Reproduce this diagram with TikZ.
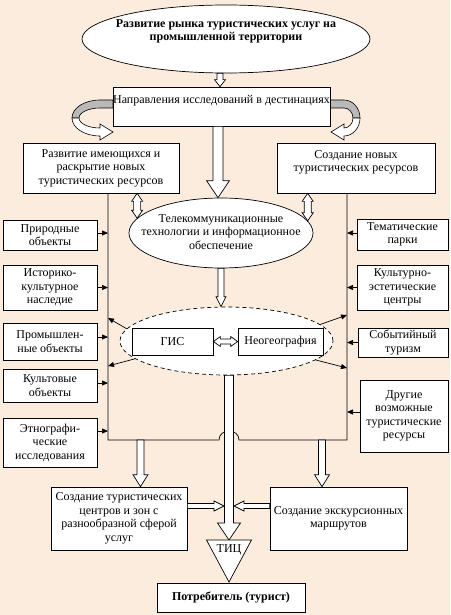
\documentclass[tikz,border=0pt]{standalone}
\usepackage{fontspec}
\setmainfont{Liberation Serif}
\usetikzlibrary{shapes.geometric,arrows.meta,calc}
\definecolor{bg}{RGB}{251,236,222}
\definecolor{band}{RGB}{185,185,185}
\newcommand\fs{\fontsize{12}{13.5}\selectfont}
% single block arrow: from, to, shaft half width, head half width, head length
\newcommand\sblock[5]{%
  \draw[barr] ($(#1)!#3!90:(#2)$) -- ($(#2)!#5!(#1)!#3!90:(#2)$) -- ($(#2)!#5!(#1)!#4!90:(#2)$) -- (#2)
    -- ($(#2)!#5!(#1)!#4!-90:(#2)$) -- ($(#2)!#5!(#1)!#3!-90:(#2)$) -- ($(#1)!#3!-90:(#2)$) -- cycle;}
% double block arrow
\newcommand\dblock[5]{%
  \draw[barr] (#1) -- ($(#1)!#5!(#2)!#4!90:(#2)$) -- ($(#1)!#5!(#2)!#3!90:(#2)$)
    -- ($(#2)!#5!(#1)!#3!90:(#2)$) -- ($(#2)!#5!(#1)!#4!90:(#2)$) -- (#2)
    -- ($(#2)!#5!(#1)!#4!-90:(#2)$) -- ($(#2)!#5!(#1)!#3!-90:(#2)$)
    -- ($(#1)!#5!(#2)!#3!-90:(#2)$) -- ($(#1)!#5!(#2)!#4!-90:(#2)$) -- cycle;}
\begin{document}
\begin{tikzpicture}[x=1pt,y=-1pt,
  ln/.style={line width=0.7pt},
  box/.style={draw, fill=white, line width=0.7pt, inner sep=0pt, align=center, font=\fs},
  oval/.style={draw, fill=white, ellipse, line width=0.7pt, inner sep=0pt},
  barr/.style={draw, fill=white, line width=0.7pt},
  sarr/.style={line width=0.7pt, -{Triangle[length=6pt,width=5pt]}},
  bandgray/.style={draw, fill=band, line width=0.6pt},
  bandwhite/.style={draw, fill=white, line width=0.6pt}]
\useasboundingbox (0,0) rectangle (450,615);
\fill[bg] (0,0) rectangle (450,615);

% curved ribbon arrows
\draw[bandgray] (113,100) -- (100,100) .. controls (84.5,100) and (72,108) .. (72,118) -- (79,118) .. controls (79,112.5) and (88.4,108) .. (100,108) -- (113,108) -- cycle;
\draw[bandwhite] (72,118) .. controls (72,127.9) and (84.5,136) .. (100,136) -- (100,140) -- (113,132) -- (100,124) -- (100,128) .. controls (88.4,128) and (79,123.5) .. (79,118) -- cycle;
\draw[bandgray] (330,100) -- (344,100) .. controls (352.8,100) and (360,108) .. (360,118) -- (353,118) .. controls (353,112.5) and (349,108) .. (344,108) -- (330,108) -- cycle;
\draw[bandwhite] (360,118) .. controls (360,127.9) and (352.8,136) .. (344,136) -- (344,140) -- (331,132) -- (344,124) -- (344,128) .. controls (349,128) and (353,123.5) .. (353,118) -- cycle;

% nodes
\node[oval, minimum width=288pt, minimum height=68pt] (title) at (226,39) {};
\node[font=\fs\bfseries, align=center] (titletxt) at (226,31.5) {Развитие рынка туристических услуг на\\промышленной территории};
\node[box, minimum width=217pt, text height=16pt, text depth=23pt] (napr) at (221.5,106.5) {Направления исследований в дестинациях};
\node[box, minimum width=156pt, minimum height=50pt] (ltop) at (101,168) {Развитие имеющихся и\\раскрытие новых\\туристических ресурсов};
\node[box, minimum width=158pt, minimum height=50pt] (rtop) at (356,168) {Создание новых\\туристических ресурсов\\\mbox{}};

\node[box, minimum width=94pt, minimum height=30pt] (prir) at (50,235) {Природные\\объекты};
\node[box, minimum width=94pt, minimum height=45pt] (ist) at (50,287.5) {Историко-\\культурное\\наследие};
\node[box, minimum width=94pt, minimum height=37pt] (prom) at (50,341.5) {Промышлен-\\ные объекты};
\node[box, minimum width=94pt, minimum height=33pt] (kult) at (50,385.5) {Культовые\\объекты};
\node[box, minimum width=94pt, minimum height=49pt] (etno) at (50,442.5) {Этнографи-\\ческие\\исследования};

\node[box, minimum width=91pt, minimum height=31pt] (tem) at (402.5,234.5) {Тематические\\парки};
\node[box, minimum width=91pt, minimum height=45pt] (kult2) at (402.5,287.5) {Культурно-\\эстетические\\центры};
\node[box, minimum width=90pt, minimum height=29pt] (sob) at (403,342.5) {Событийный\\туризм};
\node[box, minimum width=88pt, minimum height=72pt] (drug) at (404,416) {Другие\\возможные\\туристические\\ресурсы};

\node[oval, minimum width=184pt, minimum height=70pt] (tele) at (221,233) {};
\node[font=\fs, align=center] (teletxt) at (221,232) {Телекоммуникационные\\технологии и информационное\\обеспечение};

\node[oval, dash pattern=on 4pt off 3pt, minimum width=213pt, minimum height=68pt] (gisell) at (226.5,341) {};
\node[box, minimum width=81pt, minimum height=27pt] (gis) at (172.5,341.5) {ГИС};
\node[box, minimum width=85pt, minimum height=27pt] (neo) at (280.5,341.5) {Неогеография};

\node[box, minimum width=136pt, minimum height=63pt] (lbot) at (119,518.5) {Создание туристических\\центров и зон с\\разнообразной сферой\\услуг};
\node[box, minimum width=137pt, minimum height=63pt] (rbot) at (338.5,518.5) {Создание экскурсионных\\маршрутов};
\node[box, minimum width=148pt, minimum height=29pt, font=\fs\bfseries] (potr) at (231,597.5) {Потребитель (турист)};

% helper coordinates
\coordinate (lx) at (108,0);
\coordinate (rx) at (347,0);
\coordinate (hy) at (0,440);
\coordinate (c220) at (220,0);
\coordinate (c218) at (218,0);
\coordinate (c229) at (229,0);
\coordinate (c140) at (140.5,0);
\coordinate (c322) at (322,0);

% vertical and horizontal collecting lines
\draw[ln] (ltop.south -| lx) -- (lx |- hy) -- (219,440) .. controls (219,428) and (239,428) .. (239,440) -- (rx |- hy) -- (rtop.south -| rx);

% block arrows
\coordinate (a1s) at (c220 |- title.south);
\coordinate (a1e) at (c220 |- napr.north);
\sblock{a1s}{a1e}{3pt}{5.5pt}{7pt}
\coordinate (a2s) at (c218 |- napr.south);
\coordinate (a2e) at (c218 |- tele.north);
\sblock{a2s}{a2e}{5pt}{11.5pt}{17pt}
\coordinate (a3e) at (tele.south |- gisell.north);
\sblock{tele.south}{a3e}{3pt}{5pt}{10pt}
\coordinate (d1s) at (tele.170.5 |- ltop.south);
\coordinate (d1e) at (tele.170.5);
\dblock{d1s}{d1e}{3.5pt}{5.5pt}{8pt}
\coordinate (d2s) at (tele.8.5 |- rtop.south);
\coordinate (d2e) at (tele.8.5);
\dblock{d2s}{d2e}{3.5pt}{5.5pt}{8pt}
\dblock{gis.east}{neo.west}{2.5pt}{5pt}{7pt}

\coordinate (cs) at (c229 |- gisell.south);
\coordinate (tictop) at (229,540);
\sblock{cs}{tictop}{4.5pt}{11.5pt}{17pt}

\coordinate (b1s) at (c140 |- hy);
\coordinate (b1e) at (c140 |- lbot.north);
\sblock{b1s}{b1e}{3.5pt}{7.5pt}{12pt}
\coordinate (b2s) at (c322 |- hy);
\coordinate (b2e) at (c322 |- rbot.north);
\sblock{b2s}{b2e}{3.5pt}{7.5pt}{12pt}

\coordinate (e1s) at ([yshift=12.5pt]lbot.east);
\coordinate (e1e) at (224,506);
\sblock{e1s}{e1e}{2.5pt}{5pt}{10pt}
\coordinate (e2s) at ([yshift=12.5pt]rbot.west);
\coordinate (e2e) at (234,506);
\sblock{e2s}{e2e}{2.5pt}{5pt}{10pt}

% triangle
\coordinate (tl) at (206.5,540);
\coordinate (tr) at (251.5,540);
\coordinate (tb) at (229,582);
\draw[ln, fill=white] (tl) -- (tr) -- (tb) -- cycle;
\node[font=\fs] (tic) at (229,550) {ТИЦ};

% side arrows
\coordinate (s1) at ([yshift=2pt]prir.east);
\draw[sarr] (s1) -- (s1 -| lx);
\draw[sarr] (ist.east) -- (ist.east -| lx);
\coordinate (s3) at ([yshift=4.5pt]prom.east);
\draw[sarr] (s3) -- (s3 -| lx);
\coordinate (s4) at ([yshift=2.5pt]kult.east);
\draw[sarr] (s4) -- (s4 -| lx);
\coordinate (s5) at ([yshift=11.5pt]etno.east);
\draw[sarr] (s5) -- (s5 -| lx);

\coordinate (r1) at ([yshift=1.5pt]tem.west);
\draw[sarr] (r1) -- (r1 -| rx);
\draw[sarr] (kult2.west) -- (kult2.west -| rx);
\draw[sarr] (sob.west) -- (sob.west -| rx);
\coordinate (r4) at ([yshift=4pt]drug.west);
\draw[sarr] (r4) -- (r4 -| rx);

% arrows from dashed ellipse
\coordinate (g1) at (108,318);
\coordinate (g2) at (108,366);
\coordinate (g3) at (347,315);
\coordinate (g4) at (347,368);
\draw[sarr] (gisell.173) -- (g1);
\draw[sarr] (gisell.191) -- (g2);
\draw[sarr] (gisell.10) -- (g3);
\draw[sarr] (gisell.348) -- (g4);
\end{tikzpicture}
\end{document}
